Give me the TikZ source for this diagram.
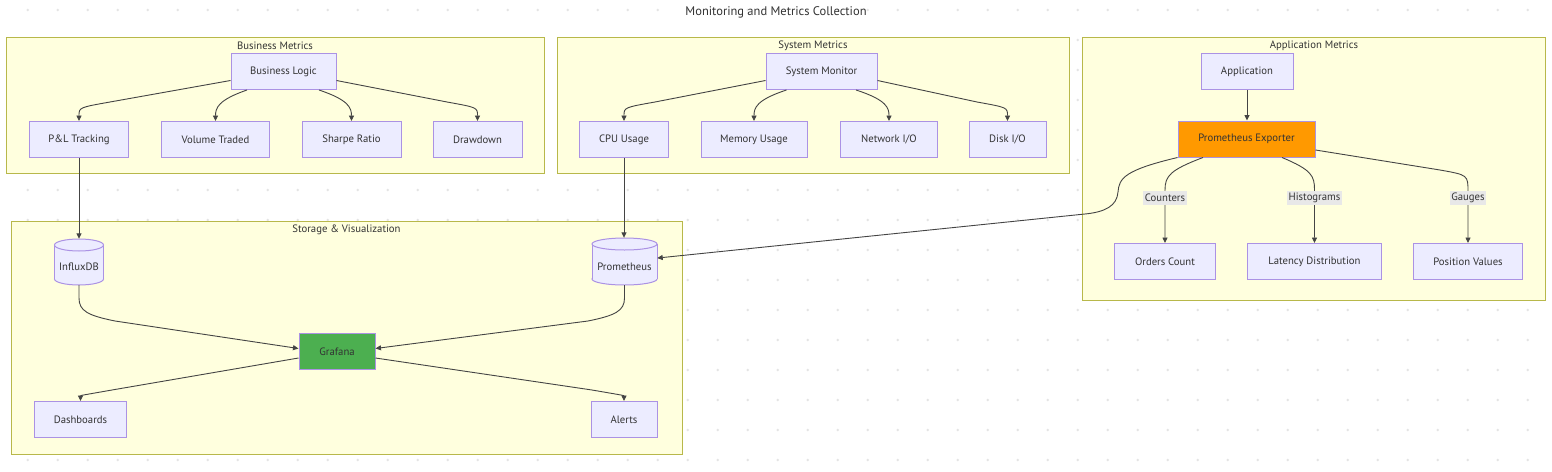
\documentclass[tikz,border=0pt]{standalone}
\usepackage{fontspec}
\setmainfont{PT Sans}
\usetikzlibrary{arrows.meta}
\definecolor{nodef}{HTML}{ECECFF}
\definecolor{nodeb}{HTML}{AB92E4}
\definecolor{clf}{HTML}{FFFFDE}
\definecolor{clb}{HTML}{B8B84A}
\definecolor{edgec}{HTML}{444444}
\definecolor{txt}{HTML}{333333}
\definecolor{dotc}{HTML}{E4E4E4}
\definecolor{lblf}{HTML}{E8E8E8}
\definecolor{orng}{HTML}{FF9900}
\definecolor{grn}{HTML}{4CAF50}
\newcommand{\dbcyl}[4]{%
  \filldraw[cylf] (#1,{#3-6}) ellipse [x radius=#4, y radius=6];
  \fill[nodef] ({#1-#4},{#2+6}) rectangle ({#1+#4},{#3-6});
  \draw[nodeb,line width=1pt] ({#1-#4},{#2+6}) -- ({#1-#4},{#3-6}) ({#1+#4},{#2+6}) -- ({#1+#4},{#3-6});
  \filldraw[cylf] (#1,{#2+6}) ellipse [x radius=#4, y radius=6];
}
\begin{document}
\begin{tikzpicture}[x=1pt,y=-1pt,
  every node/.style={text=txt},
  nodefont/.style={font=\fontsize{10.7}{12}\selectfont},
  box/.style={draw=nodeb, fill=nodef, line width=1pt, minimum height=36pt, inner sep=0pt, nodefont},
  cluster/.style={draw=clb, fill=clf, line width=1pt},
  clabel/.style={nodefont, inner sep=0pt},
  arr/.style={draw=edgec, line width=0.9pt, -{Triangle[length=5.5pt,width=5pt]}},
  elabel/.style={fill=lblf, inner xsep=1.5pt, inner ysep=0pt, minimum height=14pt, nodefont},
  cylf/.style={fill=nodef, draw=nodeb, line width=1pt}]
\fill[white] (0,0) rectangle (1552,471);
\useasboundingbox (0,0) rectangle (1552,471);
\foreach \i in {0,...,51}{\foreach \j in {0,...,15}{\fill[dotc] ({27.7+30*\i},{10+30*\j}) circle (1.4);}}
% clusters
\draw[cluster] (6.5,37.5) rectangle (544.5,173.5);
\draw[cluster] (557,37.5) rectangle (1069.5,173.5);
\draw[cluster] (1082,37.5) rectangle (1545.5,300.5);
\draw[cluster] (11,221) rectangle (682.5,454);
\node[clabel] (cl1) at (275,46) {Business Metrics};
\node[clabel] (cl2) at (813,46) {System Metrics};
\node[clabel] (cl3) at (1314,46) {Application Metrics};
\node[clabel] (cl4) at (346.5,230) {Storage \& Visualization};
\node[font=\fontsize{12.5}{14}\selectfont, text=txt] (title) at (776,12) {Monitoring and Metrics Collection};
% nodes
\node[box, minimum width=105pt] (bl) at (283.5,71.5) {Business Logic};
\node[box, minimum width=99pt] (pl) at (79,139.5) {P\&L Tracking};
\node[box, minimum width=108pt] (vol) at (215.5,139.5) {Volume Traded};
\node[box, minimum width=99pt] (sh) at (351.5,139.5) {Sharpe Ratio};
\node[box, minimum width=89pt] (dd) at (477.5,139.5) {Drawdown};
\node[box, minimum width=111pt] (sm) at (821.5,71.5) {System Monitor};
\node[box, minimum width=89pt] (cpu) at (624,139.5) {CPU Usage};
\node[box, minimum width=106pt] (mem) at (754,139.5) {Memory Usage};
\node[box, minimum width=97pt] (net) at (889,139.5) {Network I/O};
\node[box, minimum width=77pt] (disk) at (1007.5,139.5) {Disk I/O};
\node[box, minimum width=92pt] (app) at (1247,71.5) {Application};
\node[box, fill=orng, minimum width=137pt] (exp) at (1246.5,139) {Prometheus Exporter};
\node[box, minimum width=101pt] (orders) at (1165,261.5) {Orders Count};
\node[box, minimum width=134pt] (lat) at (1314.5,261.5) {Latency Distribution};
\node[box, minimum width=109pt] (pos) at (1468,261.5) {Position Values};
\node[box, fill=grn, minimum width=76pt] (graf) at (337,351.5) {Grafana};
\node[box, minimum width=92pt] (dash) at (80.5,419.5) {Dashboards};
\node[box, minimum width=66pt] (alerts) at (624,419.5) {Alerts};
% cylinders
\dbcyl{79}{239}{285}{24.5}
\node[inner sep=0pt, minimum width=49pt, minimum height=46pt] (influx) at (79,262) {};
\node[clabel] (influxt) at (79,267) {InfluxDB};
\dbcyl{624.5}{238}{285}{32.5}
\node[inner sep=0pt, minimum width=65pt, minimum height=47pt] (prom) at (624.5,261.5) {};
\node[clabel] (promt) at (624.5,267) {Prometheus};
% edges
\draw[arr] ([yshift=-9pt]bl.west) -- (110,102) .. controls (79,107.5) .. (pl.north);
\draw[arr] ([xshift=-36.5pt]bl.south) .. controls (218,100) and (215.5,108) .. (vol.north);
\draw[arr] ([xshift=35.5pt]bl.south) .. controls (349,100) and (351.5,108) .. (sh.north);
\draw[arr] ([yshift=-9pt]bl.east) -- (447,102) .. controls (477.5,107.5) .. (dd.north);
\draw[arr] ([yshift=-9pt]sm.west) -- (655,102) .. controls (624,107.5) .. (cpu.north);
\draw[arr] ([xshift=-35pt]sm.south) .. controls (756,100) and (754,108) .. (mem.north);
\draw[arr] ([xshift=34.5pt]sm.south) .. controls (887,100) and (889,108) .. (net.north);
\draw[arr] ([yshift=-9pt]sm.east) -- (977,102) .. controls (1007.5,107.5) .. (disk.north);
\draw[arr] (app.south) -- (app.south |- exp.north);
\draw[arr] ([xshift=-43.5pt]exp.south) .. controls (1170,170) and (1165,176) .. (1165,190) -- (orders.north);
\draw[arr] ([xshift=35.5pt]exp.south) .. controls (1312,170) and (1314.5,176) .. (1314.5,190) -- (lat.north);
\draw[arr] ([yshift=-11pt]exp.east) -- (1440,170) .. controls (1468,175) .. (1468,192) -- (pos.north);
\draw[arr] (exp.south west) .. controls (1125,170) and (1119,178) .. (1118,192) .. controls (1117,206) and (1105,212) .. (1085,214) -- (prom.6);
\draw[arr] (pl.south) -- (influx.north);
\draw[arr] (cpu.south) -- (cpu.south |- prom.north);
\draw[arr] (influx.south) -- (79,298) .. controls (79,311) and (88,315.5) .. (115,321) -- ([yshift=3pt]graf.west);
\draw[arr] (prom.south) -- (624.5,298) .. controls (624.5,311) and (615,315.5) .. (588,321) -- ([yshift=3pt]graf.east);
\draw[arr] ([yshift=-6.5pt]graf.west) -- (112,390) .. controls (80.5,395.5) .. (dash.north);
\draw[arr] ([yshift=-6.5pt]graf.east) -- (592,390) .. controls (624,395.5) .. (alerts.north);
% edge labels
\node[elabel] (lc) at (1165,197.5) {Counters};
\node[elabel] (lh) at (1314.5,197.5) {Histograms};
\node[elabel] (lg) at (1468,197.5) {Gauges};
\end{tikzpicture}
\end{document}
